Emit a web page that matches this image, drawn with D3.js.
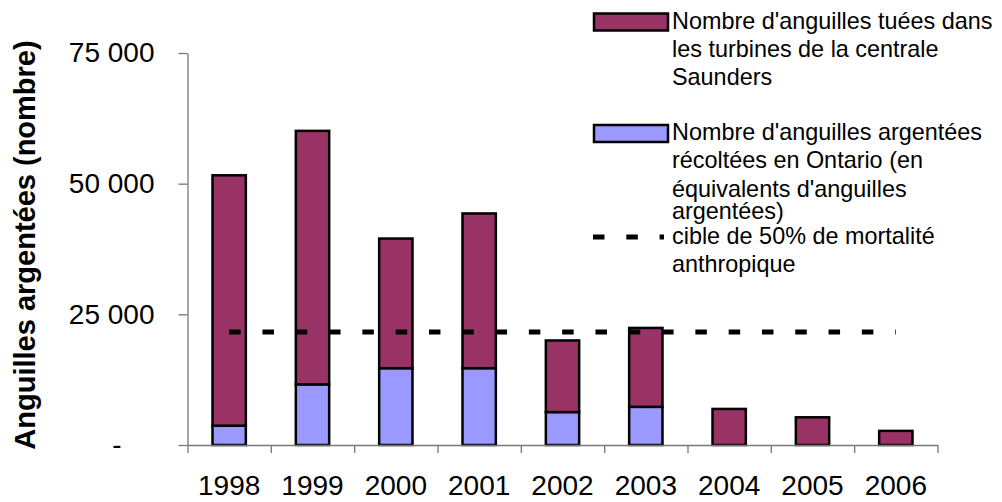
<!DOCTYPE html>
<html>
<head>
<meta charset="utf-8">
<script src="https://cdn.jsdelivr.net/npm/d3@7"></script>
<style>
  body { margin: 0; background: #fff; }
  svg { display: block; font-family: "Liberation Sans", Arial, sans-serif; }
</style>
</head>
<body>
<svg id="chart" width="1002" height="502"></svg>
<script>
// data
const years = ["1998", "1999", "2000", "2001", "2002", "2003", "2004", "2005", "2006"];
const harvested = [3700, 11600, 14700, 14700, 6300, 7300, 0, 0, 0];      // récoltées en Ontario
const killed = [47900, 48500, 24800, 29600, 13700, 15100, 6900, 5300, 2700]; // tuées dans les turbines
const target = 21600;
const yTicks = [0, 25000, 50000, 75000];

const legendKilled = ["Nombre d'anguilles tuées dans", "les turbines de la centrale", "Saunders"];
const legendHarvested = ["Nombre d'anguilles argentées", "récoltées en Ontario (en", "équivalents d'anguilles", "argentées)"];
const legendTarget = ["cible de 50% de mortalité", "anthropique"];

const colKilled = "#993366", colHarvested = "#9999ff";

const svg = d3.select("#chart");
const x0 = 187.5, x1 = 937.5, yBase = 445, yTop = 53;

let x = d3.scaleBand().domain(years).range([x0, x1]).paddingInner(0.6).paddingOuter(0.3);
let y = d3.scaleLinear().domain([0, 75000]).range([yBase, yTop]);

let rows = years.map((yr, i) => ({ year: yr, harvested: harvested[i], killed: killed[i] }));
let stacked = d3.stack().keys(["harvested", "killed"])(rows);
let colors = { harvested: colHarvested, killed: colKilled };

// bars
svg.append("g").selectAll("g")
  .data(stacked)
  .join("g")
  .attr("fill", d => colors[d.key])
  .selectAll("rect")
  .data(d => d.filter(p => p[1] > p[0]))
  .join("rect")
  .attr("x", d => x(d.data.year))
  .attr("width", x.bandwidth())
  .attr("y", d => y(d[1]))
  .attr("height", d => y(d[0]) - y(d[1]))
  .attr("stroke", "#000")
  .attr("stroke-width", 2.5);

// x axis: ticks between categories
let xEdge = d3.scaleLinear().domain([0, years.length]).range([x0, x1]);
let gx = svg.append("g")
  .attr("transform", "translate(0," + yBase + ")")
  .call(d3.axisBottom(xEdge).tickValues(d3.range(years.length + 1)).tickFormat("").tickSize(8).tickSizeOuter(0));
gx.selectAll("path, line").attr("stroke", "#777").attr("stroke-width", 1.3);

let gxl = svg.append("g")
  .attr("transform", "translate(0," + yBase + ")")
  .call(d3.axisBottom(x).tickSize(0).tickPadding(30));
gxl.select(".domain").remove();
gxl.attr("font-family", null);
gxl.selectAll("text").attr("font-size", 28).attr("fill", "#000");

// y axis
let gy = svg.append("g")
  .attr("transform", "translate(" + x0 + ",0)")
  .call(d3.axisLeft(y).tickValues(yTicks).tickSize(9).tickSizeOuter(0).tickPadding(24)
    .tickFormat(d => d === 0 ? "-" : d3.format(",")(d).replace(/,/g, " ")));
gy.attr("font-family", null);
gy.selectAll("path, line").attr("stroke", "#777").attr("stroke-width", 1.3);
gy.selectAll("text").attr("font-size", 28).attr("fill", "#000")
  .attr("dx", d => d === 0 ? -33 : 0);

// y title
svg.append("text")
  .attr("transform", "translate(35," + 245 + ") rotate(-90)")
  .attr("text-anchor", "middle")
  .attr("font-size", 29)
  .attr("font-weight", "bold")
  .text("Anguilles argentées (nombre)");

// target line
svg.append("line")
  .attr("x1", x(years[0]) + x.bandwidth() / 2)
  .attr("x2", x(years[years.length - 1]) + x.bandwidth() / 2)
  .attr("y1", y(target)).attr("y2", y(target))
  .attr("stroke", "#000").attr("stroke-width", 5)
  .attr("stroke-dasharray", "11.5,21.8");

// legend
let lg = svg.append("g").attr("font-size", 23.4);
let textX = 672;
function lines(arr, ys) {
  arr.forEach((t, i) => lg.append("text").attr("x", textX).attr("y", ys[i]).text(t));
}
lg.append("rect").attr("x", 594).attr("y", 13.5).attr("width", 74).attr("height", 17)
  .attr("fill", colKilled).attr("stroke", "#000").attr("stroke-width", 2.5);
lines(legendKilled, [29, 57, 85]);
lg.append("rect").attr("x", 594).attr("y", 125).attr("width", 74).attr("height", 17)
  .attr("fill", colHarvested).attr("stroke", "#000").attr("stroke-width", 2.5);
lines(legendHarvested, [140, 168, 197, 219]);
lg.append("line").attr("x1", 593).attr("x2", 664).attr("y1", 237).attr("y2", 237)
  .attr("stroke", "#000").attr("stroke-width", 5).attr("stroke-dasharray", "11.5,21.8");
lines(legendTarget, [244, 272]);
</script>
</body>
</html>
